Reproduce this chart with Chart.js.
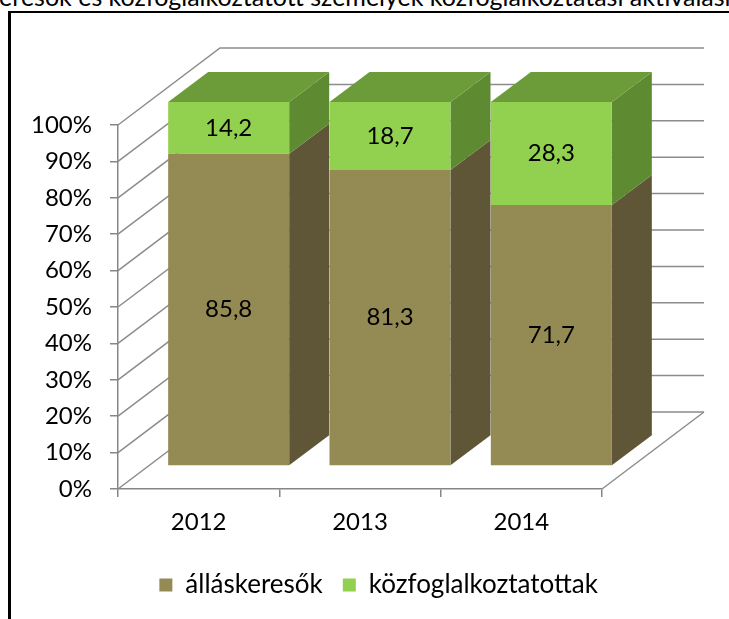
<!DOCTYPE html>
<html>
<head>
<meta charset="utf-8">
<script src="https://cdn.jsdelivr.net/npm/chart.js@4/dist/chart.umd.min.js"></script>
<style>
  body { margin: 0; width: 729px; height: 619px; overflow: hidden; position: relative; background: #fff; font-family: Lato, sans-serif; }
  #titulo { position: absolute; top: -16px; left: 0; white-space: nowrap; font-size: 25px; line-height: 25px; color: #000; }
  #marco { position: absolute; left: 8px; top: 11px; width: 900px; height: 800px; border-left: 3px solid #000; border-top: 2px solid #000; }
  #grafico { position: absolute; left: 0; top: 0; }
</style>
</head>
<body>
<div id="titulo"><span id="prefijo">Az állás</span>keresők és közfoglalkoztatott személyek közfoglalkoztatási aktiválási aránya</div>
<div id="marco"></div>
<canvas id="grafico" width="729" height="619"></canvas>
<script>
const anios = ["2012", "2013", "2014"];
const allaskeresok = [85.8, 81.3, 71.7];
const kozfoglalkoztatottak = [14.2, 18.7, 28.3];
const nombresSeries = ["álláskeresők", "közfoglalkoztatottak"];

//colores: frente, lado, arriba
const coloresFrente = ["#948A54", "#92D050"];
const coloresLado = ["#5E5636", "#5E8A32"];
const coloresArriba = ["#7A7145", "#6C9C3A"];

//profundidad del piso y de las barras
const pisoX = 102, pisoY = 77;
const offX = 30, offY = 23;
const barraX = 40, barraY = 30;

//mover el titulo para que quede cortado como en la imagen
const prefijo = document.getElementById("prefijo");
document.getElementById("titulo").style.left = -(prefijo.offsetWidth + 13) + "px";

function formatear(v) {
  return v.toFixed(1).replace(".", ",");
}

//correr la leyenda un poco a la derecha
const moverLeyenda = {
  id: "moverLeyenda",
  afterLayout(chart) {
    chart.legend.left += 16;
    chart.legend.right += 16;
  },
};

//paredes y piso en 3D
const paredes = {
  id: "paredes",
  beforeDatasetsDraw(chart) {
    const ctx = chart.ctx;
    const y = chart.scales.y;
    const a = chart.chartArea;
    ctx.save();
    ctx.strokeStyle = "#8C8C8C";
    ctx.lineWidth = 1.5;
    y.ticks.forEach((t) => {
      const py = y.getPixelForValue(t.value);
      ctx.beginPath();
      ctx.moveTo(a.left, py);
      ctx.lineTo(a.left + pisoX, py - pisoY);
      ctx.lineTo(a.right + pisoX, py - pisoY);
      ctx.stroke();
    });
    ctx.beginPath();
    ctx.moveTo(a.right, a.bottom);
    ctx.lineTo(a.right + pisoX, a.bottom - pisoY);
    ctx.stroke();
    ctx.restore();

    //caras de lado y arriba, despues el frente lo pinta Chart.js
    ctx.save();
    ctx.translate(offX, -offY);
    chart.data.datasets.forEach((ds, i) => {
      const meta = chart.getDatasetMeta(i);
      meta.data.forEach((bar) => {
        const der = bar.x + bar.width / 2;
        const izq = bar.x - bar.width / 2;
        ctx.fillStyle = coloresLado[i];
        ctx.beginPath();
        ctx.moveTo(der, bar.y);
        ctx.lineTo(der + barraX, bar.y - barraY);
        ctx.lineTo(der + barraX, bar.base - barraY);
        ctx.lineTo(der, bar.base);
        ctx.closePath();
        ctx.fill();
        if (i === chart.data.datasets.length - 1) {
          ctx.fillStyle = coloresArriba[i];
          ctx.beginPath();
          ctx.moveTo(izq, bar.y);
          ctx.lineTo(izq + barraX, bar.y - barraY);
          ctx.lineTo(der + barraX, bar.y - barraY);
          ctx.lineTo(der, bar.y);
          ctx.closePath();
          ctx.fill();
        }
      });
    });
  },
  afterDatasetsDraw(chart) {
    const ctx = chart.ctx;
    ctx.restore();
    //etiquetas de valores
    ctx.save();
    ctx.translate(offX, -offY);
    ctx.font = "24px Lato";
    ctx.fillStyle = "#000";
    ctx.textAlign = "center";
    ctx.textBaseline = "middle";
    chart.data.datasets.forEach((ds, i) => {
      const meta = chart.getDatasetMeta(i);
      meta.data.forEach((bar, j) => {
        ctx.fillText(formatear(ds.data[j]), bar.x, (bar.y + bar.base) / 2);
      });
    });
    ctx.restore();
  },
};

new Chart(document.getElementById("grafico"), {
  type: "bar",
  data: {
    labels: anios,
    datasets: [
      {
        label: nombresSeries[0],
        data: allaskeresok,
        backgroundColor: coloresFrente[0],
      },
      {
        label: nombresSeries[1],
        data: kozfoglalkoztatottak,
        backgroundColor: coloresFrente[1],
      },
    ],
  },
  options: {
    responsive: false,
    animation: false,
    devicePixelRatio: 1,
    barPercentage: 0.75,
    categoryPercentage: 1,
    layout: {
      padding: { left: 0, right: 127, top: 125, bottom: 11 },
    },
    plugins: {
      tooltip: { enabled: false },
      legend: {
        position: "bottom",
        align: "end",
        labels: {
          font: { family: "Lato", size: 26 },
          color: "#000",
          boxWidth: 13,
          boxHeight: 13,
          padding: 20,
        },
      },
    },
    scales: {
      x: {
        stacked: true,
        afterFit: (s) => { s.height = 63; },
        grid: {
          offset: true,
          drawOnChartArea: false,
          color: "#868686",
          lineWidth: 1.5,
          tickLength: 8,
        },
        border: { color: "#868686", width: 1.5 },
        ticks: {
          font: { family: "Lato", size: 24 },
          color: "#000",
          padding: 11,
        },
      },
      y: {
        stacked: true,
        min: 0,
        max: 100,
        afterFit: (s) => { s.width = 118; },
        grid: {
          drawOnChartArea: false,
          color: "#868686",
          lineWidth: 1.5,
          tickLength: 8,
        },
        border: { color: "#868686", width: 1.5 },
        ticks: {
          stepSize: 10,
          font: { family: "Lato", size: 24 },
          color: "#000",
          padding: 18,
          callback: (v) => v + "%",
        },
      },
    },
  },
  plugins: [paredes, moverLeyenda],
});
</script>
</body>
</html>
